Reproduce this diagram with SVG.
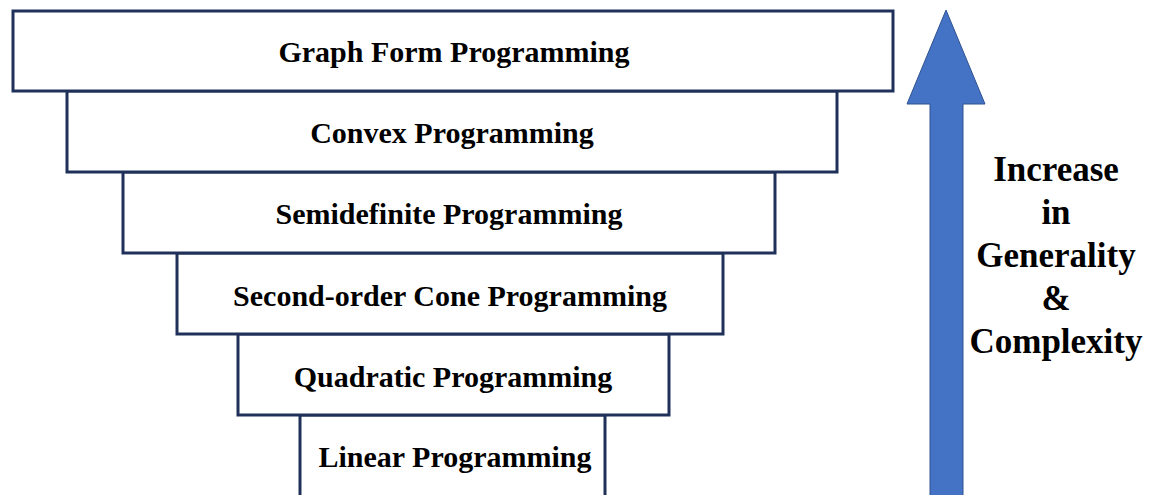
<svg xmlns="http://www.w3.org/2000/svg" width="1159" height="495" viewBox="0 0 1159 495">
<style>
.box{fill:#fff;stroke:#1F3158;stroke-width:3}
.lbl{font-family:"Liberation Serif","Times New Roman",serif;font-weight:bold;font-size:30px;fill:#000;text-anchor:middle}
.side{font-family:"Liberation Serif","Times New Roman",serif;font-weight:bold;font-size:35px;fill:#000;text-anchor:middle}
</style>
<rect width="1159" height="495" fill="#fff"/>
<g id="n6"><rect class="box" x="300" y="415" width="305" height="85"/><text class="lbl" x="455" y="467">Linear Programming</text></g>
<g id="n5"><rect class="box" x="238" y="334" width="431" height="81"/><text class="lbl" x="453" y="387">Quadratic Programming</text></g>
<g id="n4"><rect class="box" x="177" y="253" width="546" height="81"/><text class="lbl" x="450" y="306">Second-order Cone Programming</text></g>
<g id="n3"><rect class="box" x="123" y="172" width="652" height="81"/><text class="lbl" x="449" y="224">Semidefinite Programming</text></g>
<g id="n2"><rect class="box" x="67" y="91" width="770" height="81"/><text class="lbl" x="452" y="143">Convex Programming</text></g>
<g id="n1"><rect class="box" x="13" y="11" width="880" height="80"/><text class="lbl" x="454" y="62">Graph Form Programming</text></g>
<g id="connectors">
<polygon points="946,10 985,104 963,104 963,497 930,497 930,104 907,104" fill="#4472C4" stroke="#2F528F" stroke-width="1"/>
</g>
<g id="side-label">
<text class="side" x="1056" y="181">Increase</text>
<text class="side" x="1056" y="224">in</text>
<text class="side" x="1056" y="267">Generality</text>
<text class="side" x="1056" y="310">&amp;</text>
<text class="side" x="1056" y="353">Complexity</text>
</g>
</svg>
